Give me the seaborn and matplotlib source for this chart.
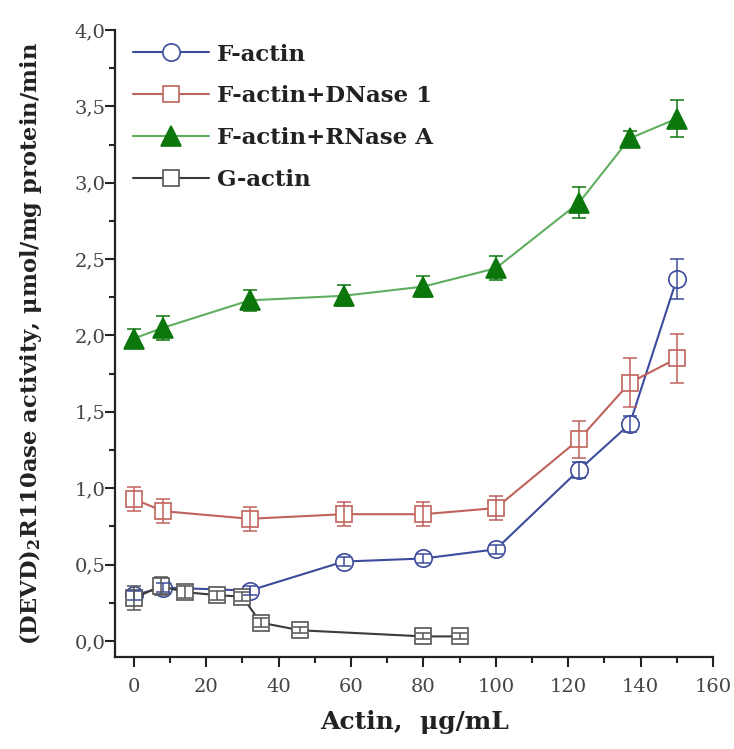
import seaborn as sns
import numpy as np
import matplotlib.pyplot as plt
from matplotlib.ticker import MultipleLocator, FuncFormatter

# concentrations (ug/mL)
x_f = [0, 8, 32, 58, 80, 100, 123, 137, 150]
x_g = [0, 7.5, 14, 23, 30, 35, 46, 80, 90]

f_actin = [0.30, 0.35, 0.33, 0.52, 0.54, 0.60, 1.12, 1.42, 2.37]
f_actin_err = [0.03, 0.03, 0.03, 0.03, 0.03, 0.03, 0.05, 0.05, 0.13]

f_dnase = [0.93, 0.85, 0.80, 0.83, 0.83, 0.87, 1.32, 1.69, 1.85]
f_dnase_err = [0.08, 0.08, 0.08, 0.08, 0.08, 0.08, 0.12, 0.16, 0.16]

f_rnase = [1.98, 2.05, 2.23, 2.26, 2.32, 2.44, 2.87, 3.29, 3.42]
f_rnase_err = [0.06, 0.08, 0.07, 0.07, 0.07, 0.08, 0.10, 0.05, 0.12]

g_actin = [0.28, 0.36, 0.32, 0.30, 0.29, 0.12, 0.07, 0.03, 0.03]
g_actin_err = [0.08, 0.06, 0.04, 0.03, 0.03, 0.03, 0.02, 0.02, 0.02]

sns.set_style('ticks')
plt.rcParams['font.family'] = ['DejaVu Serif']
plt.rcParams['mathtext.default'] = 'regular'

fig = plt.figure(figsize=(7.34, 7.49), dpi=100)
ax = fig.add_axes([0.1567, 0.1228, 0.8147, 0.8372])

series = [
    ('F-actin', x_f, f_actin, f_actin_err, '#3d4b9c', '#3d4b9c', 'o', 'white', 12.5),
    ('F-actin+DNase 1', x_f, f_dnase, f_dnase_err, '#c0625c', '#c0625c', 's', 'white', 11.5),
    ('F-actin+RNase A', x_f, f_rnase, f_rnase_err, '#5fae5f', '#0b760b', '^', '#0b760b', 14),
    ('G-actin', x_g, g_actin, g_actin_err, '#3a3a3a', '#555555', 's', 'white', 11),
]

for name, xs, ys, err, lc, mc, mk, fc, ms in series:
    sns.lineplot(x=xs, y=ys, ax=ax, color=lc, lw=1.5, marker=mk, markersize=ms,
                 markerfacecolor=fc, markeredgecolor=mc, markeredgewidth=1.2,
                 label=name, zorder=3)
    ax.errorbar(xs, ys, yerr=err, fmt='none', ecolor=mc, elinewidth=1.1,
                capsize=5, capthick=1.1, zorder=4)

ax.set_xlim(-5.2, 160)
ax.set_ylim(-0.105, 4.0)
ax.xaxis.set_major_locator(MultipleLocator(20))
ax.xaxis.set_minor_locator(MultipleLocator(10))
ax.yaxis.set_major_locator(MultipleLocator(0.5))
ax.yaxis.set_minor_locator(MultipleLocator(0.25))
ax.yaxis.set_major_formatter(FuncFormatter(lambda v, p: f'{v:.1f}'.replace('.', ',')))

for s in ['top', 'right']:
    ax.spines[s].set_visible(False)
for s in ['left', 'bottom']:
    ax.spines[s].set_linewidth(1.6)
    ax.spines[s].set_color('#222222')
ax.tick_params(which='major', direction='out', length=7, width=1.5,
               labelsize=14, labelcolor='#444444', color='#222222')
ax.tick_params(axis='x', which='major', pad=8)
ax.tick_params(axis='y', which='major', pad=0)
ax.tick_params(which='minor', direction='out', length=4, width=1.5, color='#222222')

ax.set_xlabel('Actin,  μg/mL', fontsize=18, fontweight='bold', color='#222222', labelpad=10)
ax.set_ylabel('(DEVD)$_2$R110ase activity, μmol/mg protein/min', fontsize=16.3,
              fontweight='bold', color='#222222', labelpad=22)

leg = ax.legend(loc='upper left', frameon=False, fontsize=16.5, markerscale=1.0,
                handlelength=3.3, handletextpad=0.35, labelspacing=0.86,
                borderaxespad=0.0, bbox_to_anchor=(0.015, 0.993))
for t in leg.get_texts():
    t.set_fontweight('bold')
    t.set_color('#222222')

plt.savefig('out.png', dpi=100)
